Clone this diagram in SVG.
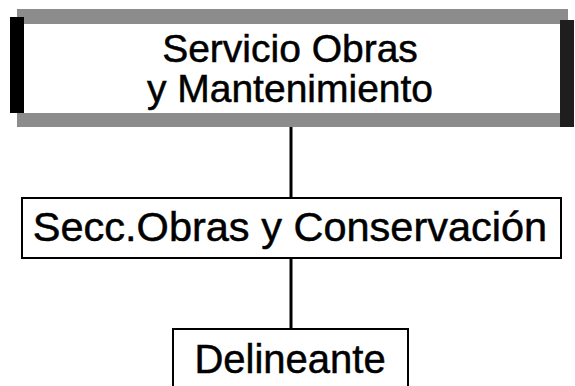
<svg xmlns="http://www.w3.org/2000/svg" width="575" height="386" viewBox="0 0 575 386">
<style>
.t{font-family:"Liberation Sans",Arial,sans-serif;fill:#000;stroke:#000;stroke-width:0.5;text-anchor:middle}
.box{fill:#fff;stroke:#000;stroke-width:2}
.con{stroke:#000;stroke-width:3;fill:none}
</style>
<rect width="575" height="386" fill="#fff"/>
<g id="connectors">
<line class="con" x1="291" y1="127" x2="291" y2="198"/>
<line class="con" x1="291" y1="258" x2="291" y2="329"/>
</g>
<g id="node-servicio">
<rect x="17" y="9" width="551" height="118" fill="#8c8c8c"/>
<rect x="10" y="17" width="14" height="96" fill="#000"/>
<rect x="560" y="20" width="14" height="107" fill="#1e1e1e"/>
<rect x="24" y="24" width="536" height="89" fill="#fff"/>
<text class="t" x="290" y="62" font-size="39">Servicio Obras</text>
<text class="t" x="290" y="102" font-size="39">y Mantenimiento</text>
</g>
<g id="node-seccion">
<rect class="box" x="22" y="198" width="539" height="60"/>
<text class="t" x="290" y="241" font-size="41.5">Secc.Obras y Conservación</text>
</g>
<g id="node-delineante">
<rect class="box" x="173" y="329" width="235" height="80"/>
<text class="t" x="290" y="373" font-size="40">Delineante</text>
</g>
</svg>
